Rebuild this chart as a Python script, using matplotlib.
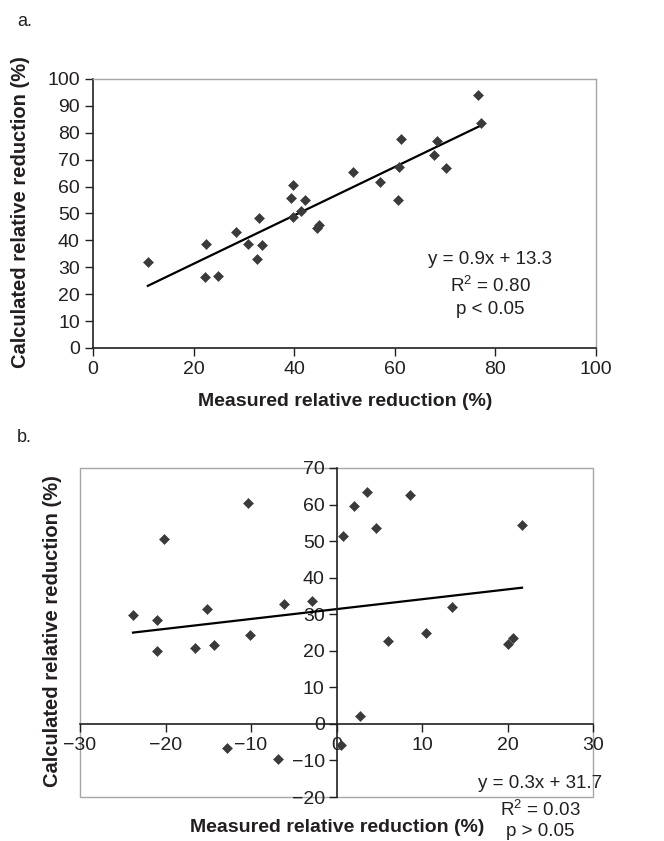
#!/usr/bin/env python3
"""Two-panel scatter: calculated vs measured relative reduction, with linear fits."""

import matplotlib

matplotlib.use("Agg")
import matplotlib.pyplot as plt
import numpy as np
from matplotlib.patches import Rectangle

W, H = 664, 841
INK = "#231f20"
MARK = "#3a3a3a"
FRAME = "#a6a6a6"

# panel a data
a_measured = [10.9, 22.5, 22.3, 24.9, 28.4, 30.8, 32.6, 33.1, 33.6, 39.4, 39.7, 39.7, 41.4,
              42.2, 44.6, 45.0, 51.7, 57.0, 60.6, 60.9, 61.3, 67.7, 68.4, 70.2, 76.6, 77.1]
a_calculated = [32.0, 38.8, 26.3, 26.9, 43.0, 38.8, 33.2, 48.2, 38.3, 55.6, 60.7, 48.7, 50.8,
                55.0, 44.5, 45.6, 65.4, 61.7, 55.0, 67.4, 77.8, 71.6, 76.8, 67.0, 93.9, 83.5]
a_fit = (0.9, 13.3)
a_stats = ["y = 0.9x + 13.3", "R$^2$ = 0.80", "p < 0.05"]

# panel b data
b_measured = [-23.8, -21.0, -21.0, -20.2, -16.5, -15.2, -14.3, -12.8, -10.4, -10.1, -6.8, -6.1,
              -2.9, 0.5, 0.8, 2.0, 2.7, 3.6, 4.6, 6.0, 8.6, 10.5, 13.5, 20.0, 20.6, 21.7]
b_calculated = [29.8, 28.3, 20.0, 50.6, 20.8, 31.3, 21.5, -6.7, 60.3, 24.2, -9.7, 32.9,
                33.6, -5.9, 51.4, 59.6, 2.2, 63.3, 53.6, 22.7, 62.5, 24.9, 32.0, 21.9, 23.5, 54.3]
b_fit = (0.27, 31.4)
b_stats = ["y = 0.3x + 31.7", "R$^2$ = 0.03", "p > 0.05"]

x_label = "Measured relative reduction (%)"
y_label = "Calculated relative reduction (%)"

plt.rcParams["font.family"] = ["Liberation Sans", "DejaVu Sans"]
plt.rcParams["mathtext.fontset"] = "custom"
plt.rcParams["mathtext.rm"] = "Liberation Sans"
plt.rcParams["text.color"] = INK
plt.rcParams["axes.unicode_minus"] = True


def box(left, top, right, bottom):
    return [left / W, 1 - bottom / H, (right - left) / W, (bottom - top) / H]


def fx(x):
    return x / W


def fy(y):
    return 1 - y / H


def draw_points(ax, xs, ys, fit):
    xs = np.asarray(xs)
    ax.plot(xs, ys, "D", color=MARK, ms=4.6, mew=0.4, mec=MARK, zorder=3, clip_on=False)
    xl = np.array([xs.min(), xs.max()])
    ax.plot(xl, fit[0] * xl + fit[1], color="black", lw=1.6, zorder=2)


def style_ticks(ax):
    ax.tick_params(direction="out", length=5.5, width=1.0, colors=INK, labelsize=14, pad=4)


fig = plt.figure(figsize=(W / 100, H / 100), dpi=100)

# ---- panel a
ax = fig.add_axes(box(93, 79, 596, 348))
draw_points(ax, a_measured, a_calculated, a_fit)
ax.set_xlim(0, 100)
ax.set_ylim(0, 100)
ax.set_xticks(np.arange(0, 101, 20))
ax.set_yticks(np.arange(0, 101, 10))
for s in ("top", "right"):
    ax.spines[s].set_color(FRAME)
    ax.spines[s].set_linewidth(1.0)
for s in ("left", "bottom"):
    ax.spines[s].set_color(INK)
    ax.spines[s].set_linewidth(1.2)
style_ticks(ax)
ax.tick_params(top=False, right=False)
for txt, y in zip(a_stats, [259, 286, 309]):
    fig.text(fx(490), fy(y), txt, ha="center", va="center", fontsize=13.5)
fig.text(fx(345), fy(402), x_label, ha="center", va="center", fontsize=14, fontweight="bold")
fig.text(fx(21), fy(212), y_label, ha="center", va="center", rotation=90,
         fontsize=14.5, fontweight="bold")
fig.text(fx(17), fy(21), "a.", ha="left", va="center", fontsize=13)

# ---- panel b
ax = fig.add_axes(box(80, 468, 593, 797))
draw_points(ax, b_measured, b_calculated, b_fit)
ax.set_xlim(-30, 30)
ax.set_ylim(-20, 70)
ax.set_xticks(np.arange(-30, 31, 10))
ax.set_yticks(np.arange(-20, 71, 10))
ax.spines["left"].set_position(("data", 0))
ax.spines["bottom"].set_position(("data", 0))
for s in ("left", "bottom"):
    ax.spines[s].set_color(INK)
    ax.spines[s].set_linewidth(1.2)
for s in ("top", "right"):
    ax.spines[s].set_visible(False)
ax.add_patch(Rectangle((0, 0), 1, 1, transform=ax.transAxes, fill=False,
                       ec=FRAME, lw=1.0, clip_on=False, zorder=0))
style_ticks(ax)
ax.tick_params(axis="y", pad=3)
for txt, y in zip(b_stats, [783, 810, 831]):
    fig.text(fx(540), fy(y), txt, ha="center", va="center", fontsize=13.5)
fig.text(fx(337), fy(827), x_label, ha="center", va="center", fontsize=14, fontweight="bold")
fig.text(fx(53), fy(631), y_label, ha="center", va="center", rotation=90,
         fontsize=14.5, fontweight="bold")
fig.text(fx(17), fy(437), "b.", ha="left", va="center", fontsize=13)

fig.savefig("out.png", dpi=100)
